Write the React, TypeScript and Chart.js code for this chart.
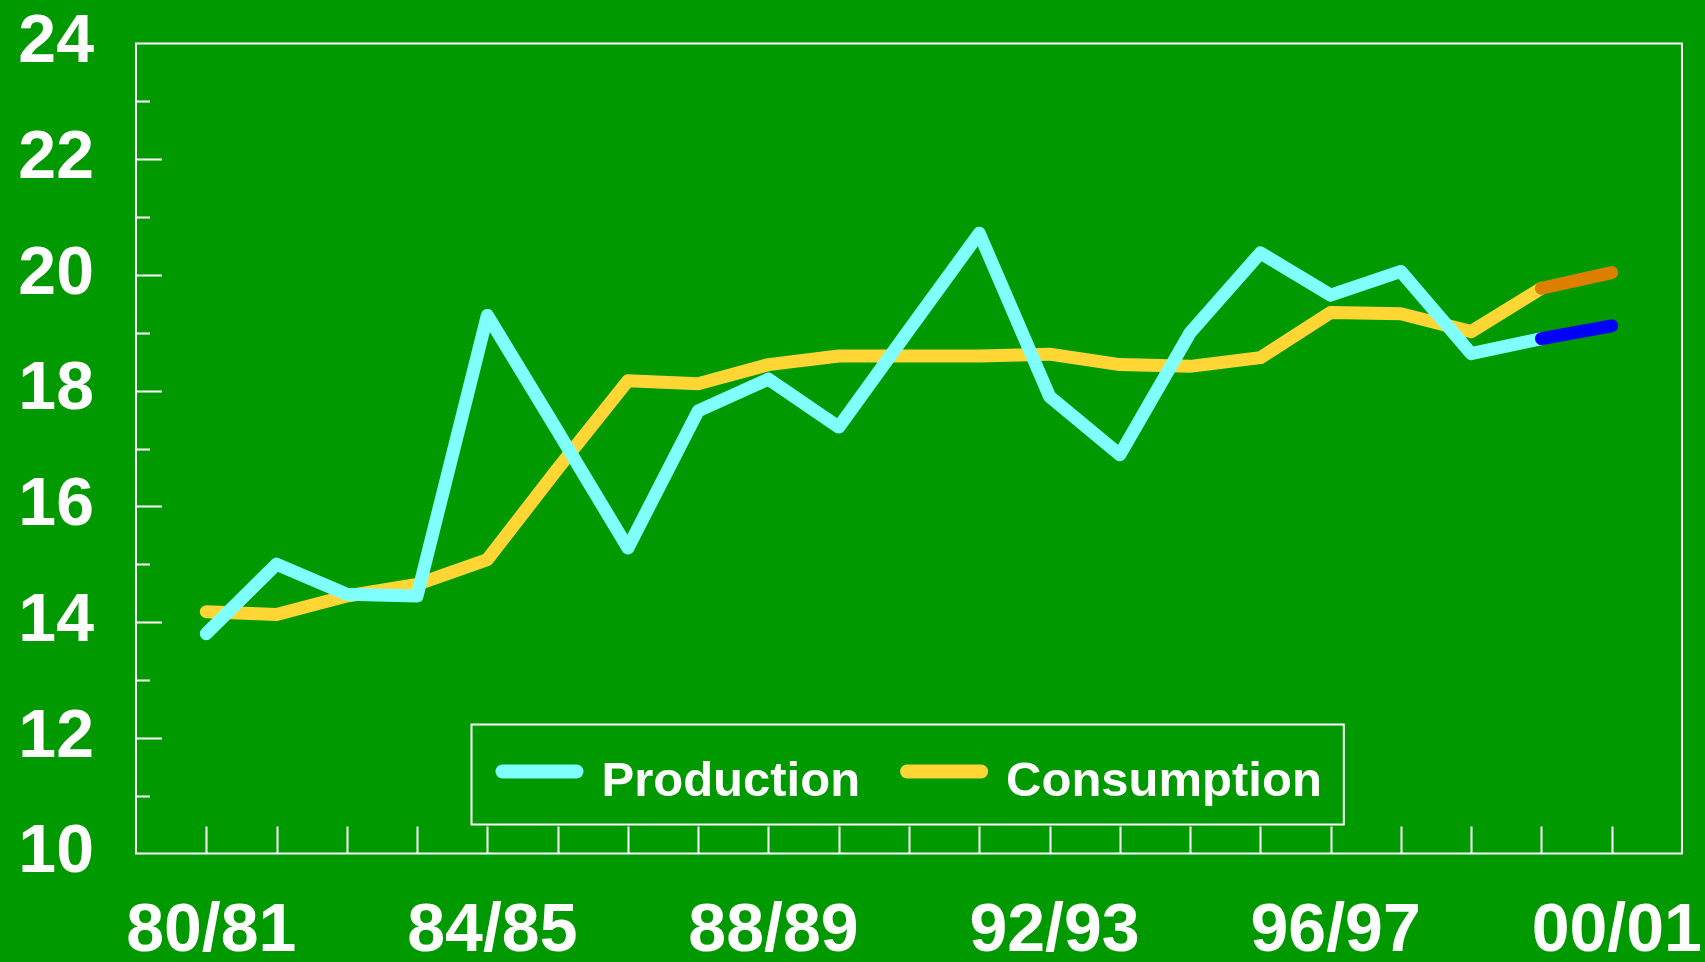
import React, { useEffect, useRef } from 'react';
import { Chart, registerables } from 'chart.js';

Chart.register(...registerables);

// ---- data ----
const categories = [
  '80/81', '81/82', '82/83', '83/84', '84/85', '85/86', '86/87', '87/88', '88/89', '89/90', '90/91',
  '91/92', '92/93', '93/94', '94/95', '95/96', '96/97', '97/98', '98/99', '99/00', '00/01',
];
const production = [
  13.8, 15.0, 14.48, 14.45, 19.3, 17.3, 15.28, 17.65, 18.2, 17.37, 19.05,
  20.72, 17.9, 16.89, 19.0, 20.38, 19.65, 20.06, 18.64, 18.9, 19.12,
];
const consumption = [
  14.18, 14.13, 14.45, 14.65, 15.08, 16.65, 18.17, 18.12, 18.45, 18.6, 18.6,
  18.6, 18.63, 18.45, 18.42, 18.57, 19.35, 19.33, 19.02, 19.77, 20.04,
];
const forecastFrom = 19; // segments from 99/00 onward are forecasts
const labelEvery = 4;
const yMin = 10;
const yMax = 24;
const yStep = 2;

// ---- styles ----
const W = 1705;
const H = 962;
const BG = '#009900';
const WHITE = '#ffffff';
const PROD_COLOR = '#80ffff';
const PROD_FORECAST = '#0000ff';
const CONS_COLOR = '#ffd633';
const CONS_FORECAST = '#dd7f00';
const FONT = '"Liberation Sans", Arial, Helvetica, sans-serif';

const frameAndTicks = {
  id: 'frameAndTicks',
  beforeDatasetsDraw(chart: any) {
    const { ctx, chartArea: a, scales } = chart;
    const xs = scales.x;
    const ys = scales.y;
    ctx.save();
    ctx.strokeStyle = WHITE;
    ctx.lineWidth = 2;
    ctx.strokeRect(a.left, a.top, a.right - a.left, a.bottom - a.top);
    ctx.beginPath();
    categories.forEach((_, i) => {
      const x = Math.round(xs.getPixelForValue(i)) + 0.5;
      ctx.moveTo(x, a.bottom);
      ctx.lineTo(x, a.bottom - 27);
    });
    for (let v = yMin + 1; v < yMax; v++) {
      const y = Math.round(ys.getPixelForValue(v)) + 0.5;
      const len = v % yStep === 0 ? 26 : 14;
      ctx.moveTo(a.left, y);
      ctx.lineTo(a.left + len, y);
    }
    ctx.stroke();
    ctx.restore();
  },
};

const legendBox = {
  id: 'legendBox',
  afterDraw(chart: any) {
    const { ctx, chartArea: a } = chart;
    ctx.save();
    ctx.font = `bold 49px ${FONT}`;
    const items = chart.data.datasets.map((d: any) => ({
      label: d.label as string,
      color: d.borderColor as string,
      w: ctx.measureText(d.label).width,
    }));
    const padL = 24;
    const padR = 22;
    const sample = 88;
    const gap = 18;
    const between = 40;
    let total = padL + padR;
    items.forEach((it: any, i: number) => {
      total += sample + gap + it.w + (i > 0 ? between : 0);
    });
    const h = 100;
    const cx = (a.left + a.right) / 2;
    const left = Math.round(cx - total / 2) - 1.5;
    const bottom = Math.round(a.bottom - 30) + 0.5;
    const top = bottom - h;
    ctx.strokeStyle = WHITE;
    ctx.lineWidth = 2;
    ctx.strokeRect(left, top, total, h);
    let x = left + padL;
    items.forEach((it: any, i: number) => {
      if (i > 0) x += between;
      ctx.strokeStyle = it.color;
      ctx.lineWidth = 14;
      ctx.lineCap = 'round';
      ctx.beginPath();
      ctx.moveTo(x + 7, top + 47);
      ctx.lineTo(x + sample - 7, top + 47);
      ctx.stroke();
      x += sample + gap;
      ctx.fillStyle = WHITE;
      ctx.textBaseline = 'alphabetic';
      ctx.textAlign = 'left';
      ctx.fillText(it.label, x, top + 71);
      x += it.w;
    });
    ctx.restore();
  },
};

export default function App() {
  const ref = useRef<HTMLCanvasElement>(null);

  useEffect(() => {
    document.body.style.margin = '0';
    document.body.style.background = BG;
    const canvas = ref.current!;
    const lineStyle = {
      borderWidth: 13,
      borderCapStyle: 'round',
      borderJoinStyle: 'round',
      pointRadius: 0,
      tension: 0,
    };
    const chart = new Chart(canvas, {
      type: 'line',
      data: {
        datasets: [
          {
            label: 'Production',
            data: production.map((v, i) => ({ x: i, y: v })),
            borderColor: PROD_COLOR,
            ...lineStyle,
            segment: {
              borderColor: (c: any) => (c.p0DataIndex >= forecastFrom ? PROD_FORECAST : undefined),
            },
          },
          {
            label: 'Consumption',
            data: consumption.map((v, i) => ({ x: i, y: v })),
            borderColor: CONS_COLOR,
            ...lineStyle,
            segment: {
              borderColor: (c: any) => (c.p0DataIndex >= forecastFrom ? CONS_FORECAST : undefined),
            },
          },
        ],
      },
      options: {
        responsive: false,
        animation: false,
        devicePixelRatio: 1,
        layout: { padding: { top: 43.5, right: 23, left: 0, bottom: 0 } },
        plugins: {
          legend: { display: false },
          tooltip: { enabled: false },
        },
        scales: {
          x: {
            type: 'linear',
            min: -1,
            max: categories.length,
            afterFit: (s: any) => {
              s.height = H - 853.5;
              s.paddingLeft = 0;
              s.paddingRight = 0;
              s.paddingTop = 0;
              s.paddingBottom = 0;
            },
            grid: { display: false, drawTicks: false },
            border: { display: false },
            ticks: {
              stepSize: 1,
              autoSkip: false,
              maxRotation: 0,
              minRotation: 0,
              padding: 38,
              labelOffset: 5,
              color: WHITE,
              font: { family: FONT, size: 68, weight: 'bold' },
              callback: (v: any) => {
                const i = Number(v);
                return i >= 0 && i < categories.length && i % labelEvery === 0 ? categories[i] : '';
              },
            },
          },
          y: {
            min: yMin,
            max: yMax,
            afterFit: (s: any) => {
              s.width = 136;
              s.paddingLeft = 0;
              s.paddingRight = 0;
              s.paddingTop = 0;
              s.paddingBottom = 0;
            },
            grid: { display: false, drawTicks: false },
            border: { display: false },
            ticks: {
              stepSize: yStep,
              padding: 42,
              color: WHITE,
              font: { family: FONT, size: 68, weight: 'bold' },
            },
          },
        },
      },
      plugins: [frameAndTicks, legendBox],
    } as any);
    return () => chart.destroy();
  }, []);

  return (
    <div style={{ position: 'fixed', left: 0, top: 0, width: W, height: H, background: BG }}>
      <canvas ref={ref} width={W} height={H} style={{ display: 'block', width: W, height: H }} />
    </div>
  );
}
